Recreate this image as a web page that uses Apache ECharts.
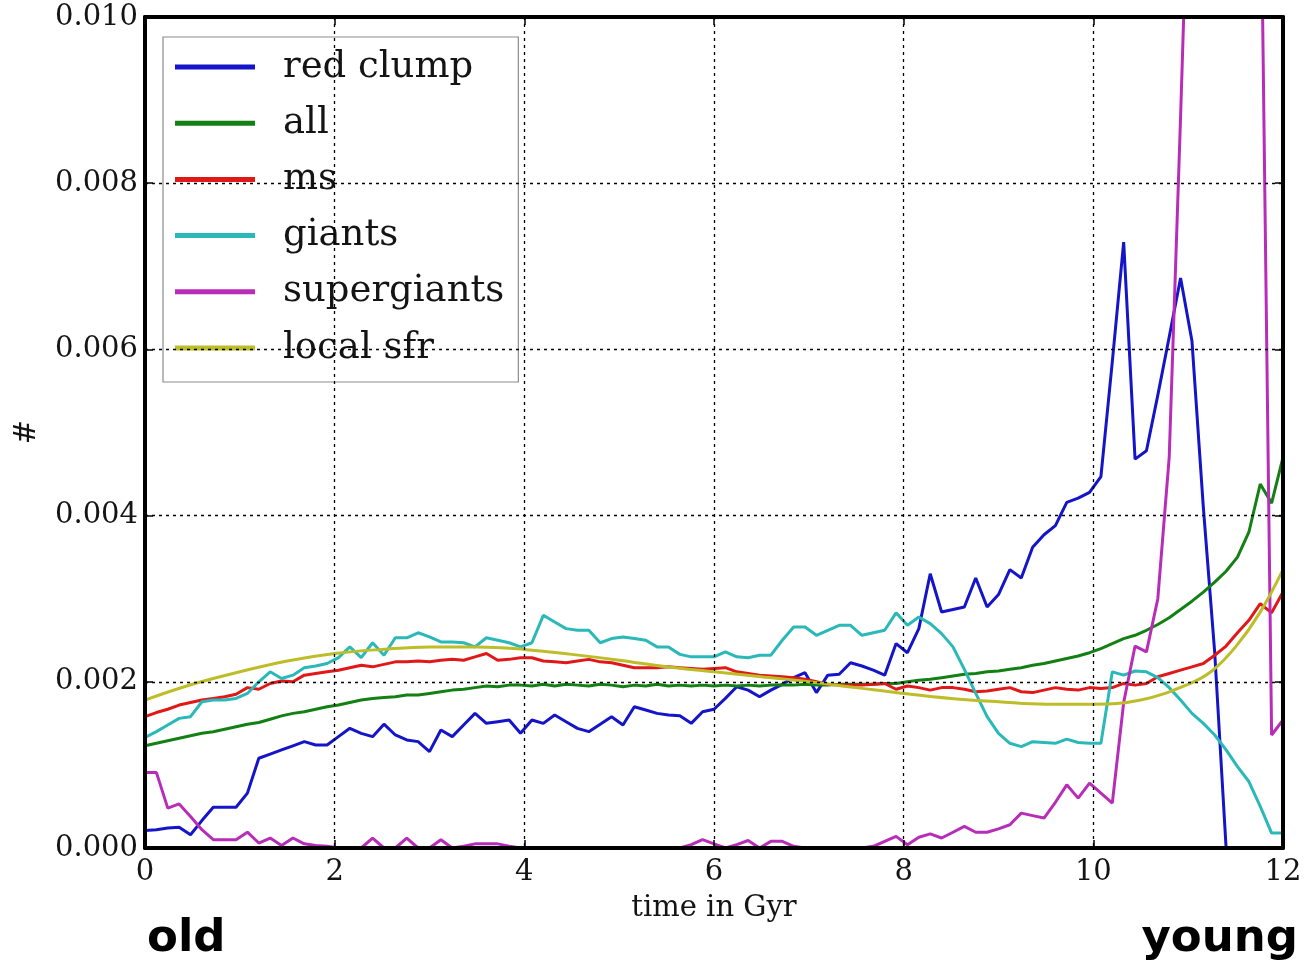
<!DOCTYPE html>
<html>
<head>
<meta charset="utf-8">
<script src="https://cdn.jsdelivr.net/npm/echarts@6/dist/echarts.min.js"></script>
<style>
  html, body { margin: 0; padding: 0; background: #fff; }
  #chart { width: 1304px; height: 963px; }
</style>
</head>
<body>
<div id="chart"></div>
<script>
// Age bins in Gyr (0.12 Gyr wide)
const timeGyr = [
  0, 0.12, 0.24, 0.36, 0.48, 0.6, 0.72, 0.84, 0.96, 1.08,
  1.2, 1.32, 1.44, 1.56, 1.68, 1.8, 1.92, 2.04, 2.16, 2.28,
  2.4, 2.52, 2.64, 2.76, 2.88, 3, 3.12, 3.24, 3.36, 3.48,
  3.6, 3.72, 3.84, 3.96, 4.08, 4.2, 4.32, 4.44, 4.56, 4.68,
  4.8, 4.92, 5.04, 5.16, 5.28, 5.4, 5.52, 5.64, 5.76, 5.88,
  6, 6.12, 6.24, 6.36, 6.48, 6.6, 6.72, 6.84, 6.96, 7.08,
  7.2, 7.32, 7.44, 7.56, 7.68, 7.8, 7.92, 8.04, 8.16, 8.28,
  8.4, 8.52, 8.64, 8.76, 8.88, 9, 9.12, 9.24, 9.36, 9.48,
  9.6, 9.72, 9.84, 9.96, 10.08, 10.2, 10.32, 10.44, 10.56, 10.68,
  10.8, 10.92, 11.04, 11.16, 11.28, 11.4, 11.52, 11.64, 11.76, 11.88, 12
];

// Normalised counts per bin, in units of 1e-3
const redClump = [
  0.21, 0.22, 0.24, 0.25, 0.16, 0.33, 0.49, 0.49, 0.49, 0.66,
  1.08, 1.13, 1.18, 1.23, 1.28, 1.24, 1.24, 1.34, 1.44, 1.38,
  1.34, 1.49, 1.36, 1.30, 1.28, 1.16, 1.42, 1.34, 1.48, 1.62,
  1.50, 1.52, 1.54, 1.38, 1.54, 1.50, 1.60, 1.52, 1.44, 1.40,
  1.49, 1.58, 1.48, 1.70, 1.66, 1.62, 1.60, 1.59, 1.50, 1.64,
  1.67, 1.80, 1.94, 1.90, 1.82, 1.90, 1.97, 2.05, 2.11, 1.87,
  2.08, 2.09, 2.23, 2.19, 2.14, 2.08, 2.46, 2.35, 2.64, 3.30,
  2.84, 2.87, 2.90, 3.25, 2.90, 3.05, 3.35, 3.25, 3.62, 3.77,
  3.88, 4.16, 4.21, 4.28, 4.47, 5.85, 7.29, 4.68, 4.78, 5.45,
  6.15, 6.86, 6.10, 4.10, 2.35, 0, 0, 0, 0, 0, 0
];

const allStars = [
  1.23, 1.26, 1.29, 1.32, 1.35, 1.38, 1.40, 1.43, 1.46, 1.49,
  1.51, 1.55, 1.59, 1.62, 1.64, 1.67, 1.70, 1.72, 1.75, 1.78,
  1.80, 1.81, 1.82, 1.84, 1.84, 1.86, 1.88, 1.90, 1.91, 1.93,
  1.95, 1.94, 1.96, 1.96, 1.95, 1.97, 1.95, 1.97, 1.96, 1.95,
  1.97, 1.96, 1.94, 1.96, 1.95, 1.97, 1.95, 1.96, 1.95, 1.96,
  1.95, 1.96, 1.95, 1.96, 1.95, 1.96, 1.96, 1.96, 1.97, 1.96,
  1.96, 1.97, 1.97, 1.97, 1.97, 1.98, 1.98, 2.00, 2.02, 2.03,
  2.05, 2.07, 2.09, 2.10, 2.12, 2.13, 2.15, 2.17, 2.20, 2.22,
  2.25, 2.28, 2.31, 2.35, 2.40, 2.46, 2.52, 2.56, 2.62, 2.69,
  2.77, 2.87, 2.97, 3.08, 3.20, 3.33, 3.50, 3.80, 4.38, 4.15, 4.70
];

const mainSequence = [
  1.58, 1.63, 1.67, 1.72, 1.75, 1.78, 1.80, 1.82, 1.85, 1.93,
  1.91, 1.98, 2.01, 2.00, 2.08, 2.10, 2.12, 2.14, 2.17, 2.20,
  2.18, 2.21, 2.24, 2.24, 2.25, 2.24, 2.26, 2.27, 2.26, 2.30,
  2.34, 2.26, 2.27, 2.29, 2.29, 2.25, 2.24, 2.23, 2.25, 2.27,
  2.24, 2.23, 2.20, 2.17, 2.17, 2.17, 2.18, 2.17, 2.16, 2.15,
  2.16, 2.17, 2.12, 2.10, 2.08, 2.07, 2.06, 2.05, 2.03, 2.00,
  1.97, 1.96, 1.96, 1.96, 1.97, 1.98, 1.91, 1.95, 1.93, 1.90,
  1.93, 1.93, 1.91, 1.88, 1.89, 1.91, 1.93, 1.88, 1.87, 1.90,
  1.93, 1.91, 1.90, 1.93, 1.92, 1.93, 1.98, 1.96, 1.98, 2.06,
  2.10, 2.14, 2.18, 2.22, 2.32, 2.43, 2.59, 2.74, 2.94, 2.83, 3.08
];

const giants = [
  1.33, 1.40, 1.48, 1.56, 1.58, 1.76, 1.78, 1.78, 1.80, 1.86,
  2.00, 2.12, 2.04, 2.08, 2.17, 2.19, 2.22, 2.29, 2.42, 2.29,
  2.47, 2.32, 2.53, 2.53, 2.59, 2.54, 2.48, 2.48, 2.47, 2.42,
  2.53, 2.50, 2.47, 2.42, 2.47, 2.80, 2.72, 2.64, 2.62, 2.62,
  2.47, 2.52, 2.54, 2.52, 2.50, 2.42, 2.42, 2.33, 2.30, 2.30,
  2.30, 2.36, 2.30, 2.29, 2.32, 2.32, 2.50, 2.66, 2.66, 2.56,
  2.62, 2.68, 2.68, 2.56, 2.59, 2.62, 2.83, 2.68, 2.78, 2.70,
  2.58, 2.42, 2.15, 1.86, 1.58, 1.38, 1.26, 1.22, 1.28, 1.27,
  1.26, 1.31, 1.27, 1.26, 1.26, 2.12, 2.08, 2.13, 2.12, 2.05,
  1.93, 1.78, 1.62, 1.50, 1.36, 1.18, 0.98, 0.80, 0.50, 0.18, 0.18
];

const supergiants = [
  0.91, 0.91, 0.48, 0.53, 0.38, 0.22, 0.10, 0.10, 0.10, 0.19,
  0.06, 0.12, 0.03, 0.12, 0.05, 0.03, 0.02, 0, 0, 0,
  0.12, 0, 0, 0.12, 0, 0, 0.10, 0, 0.02, 0.05,
  0.05, 0.05, 0.02, 0, 0, 0, 0, 0, 0, 0,
  0, 0, 0, 0, 0, 0, 0, 0, 0.04, 0.10,
  0.05, 0, 0.04, 0.09, 0, 0.08, 0.08, 0.02, 0, 0,
  0, 0, 0, 0, 0.02, 0.08, 0.14, 0.04, 0.13, 0.17,
  0.12, 0.19, 0.26, 0.19, 0.19, 0.23, 0.28, 0.42, 0.39, 0.36,
  0.55, 0.76, 0.60, 0.78, 0.66, 0.54, 1.75, 2.43, 2.36, 3.00,
  4.70, 8.80, 13.2, 14.5, 15.2, 15.0, 14.2, 13.3, 12.3, 1.36, 1.54
];

// Local star formation rate, sampled more coarsely
const sfrTime = [0, 0.5, 1, 1.5, 2, 2.5, 3, 3.5, 4, 4.5, 5, 5.5, 6, 6.5, 7, 7.5,
  8, 8.5, 9, 9.5, 10, 10.5, 11, 11.25, 11.5, 11.75, 12];
const localSfr = [1.78, 1.97, 2.12, 2.25, 2.34, 2.39, 2.42, 2.42, 2.39, 2.33, 2.26, 2.18,
  2.12, 2.06, 2.00, 1.93, 1.86, 1.80, 1.76, 1.73, 1.73, 1.78, 1.97, 2.13, 2.42, 2.82, 3.35];

const seriesNames = ['red clump', 'all', 'ms', 'giants', 'supergiants', 'local sfr'];
const yTicks = [0, 0.002, 0.004, 0.006, 0.008, 0.010];
const xTicks = [0, 2, 4, 6, 8, 10, 12];
const UNIT = 1e-3;

const SERIF = 'DejaVu Serif';
const colors = ['#1414c8', '#138013', '#e01818', '#2ab8b8', '#b82db8', '#bdbd2a'];

function pairs(ts, vs) {
  return ts.map((t, i) => [t, vs[i] * UNIT]);
}

const seriesData = [
  pairs(timeGyr, redClump),
  pairs(timeGyr, allStars),
  pairs(timeGyr, mainSequence),
  pairs(timeGyr, giants),
  pairs(timeGyr, supergiants),
  pairs(sfrTime, localSfr)
];

const frameLine = { show: true, onZero: false, lineStyle: { color: '#000', width: 4 } };
const innerTick = { show: true, inside: true, length: 8, lineStyle: { color: '#000', width: 1.5 } };
const gridLine = { show: true, lineStyle: { color: '#000', width: 1.3, type: [3, 4] } };

const chart = echarts.init(document.getElementById('chart'), null, { renderer: 'canvas' });

chart.setOption({
  animation: false,
  backgroundColor: '#ffffff',
  grid: { left: 145, right: 21, top: 17, bottom: 115, outerBoundsMode: 'none' },
  legend: {
    data: seriesNames,
    orient: 'vertical',
    left: 163,
    top: 37,
    icon: 'rect',
    itemWidth: 80,
    itemHeight: 5,
    itemGap: 11.2,
    padding: [7.5, 14, 11.5, 12],
    borderColor: '#8c8c8c',
    borderWidth: 1.2,
    backgroundColor: 'transparent',
    selectedMode: false,
    textStyle: {
      fontFamily: SERIF,
      fontSize: 37,
      lineHeight: 37,
      color: '#141414',
      padding: [8, 0, 0, 23]
    }
  },
  xAxis: [
    {
      type: 'value',
      min: xTicks[0],
      max: xTicks[xTicks.length - 1],
      interval: 2,
      z: 10,
      axisLine: frameLine,
      axisTick: innerTick,
      splitLine: gridLine,
      axisLabel: {
        fontFamily: SERIF, fontSize: 29, color: '#141414', margin: 10,
        formatter: v => String(v)
      }
    },
    {
      type: 'value',
      position: 'top',
      min: xTicks[0],
      max: xTicks[xTicks.length - 1],
      interval: 2,
      z: 10,
      axisLine: frameLine,
      axisTick: innerTick,
      splitLine: { show: false },
      axisLabel: { show: false }
    }
  ],
  yAxis: [
    {
      type: 'value',
      min: yTicks[0],
      max: yTicks[yTicks.length - 1],
      interval: 0.002,
      z: 10,
      axisLine: frameLine,
      axisTick: innerTick,
      splitLine: gridLine,
      axisLabel: {
        fontFamily: SERIF, fontSize: 29, color: '#141414', margin: 7,
        formatter: v => v.toFixed(3)
      }
    },
    {
      type: 'value',
      position: 'right',
      min: yTicks[0],
      max: yTicks[yTicks.length - 1],
      interval: 0.002,
      z: 10,
      axisLine: frameLine,
      axisTick: innerTick,
      splitLine: { show: false },
      axisLabel: { show: false }
    }
  ],
  series: seriesNames.map((name, i) => ({
    name,
    type: 'line',
    data: seriesData[i],
    xAxisIndex: 0,
    yAxisIndex: 0,
    showSymbol: false,
    symbol: 'none',
    smooth: name === 'local sfr' ? 0.4 : false,
    clip: true,
    color: colors[i],
    lineStyle: { color: colors[i], width: 3 }
  })),
  graphic: [
    {
      type: 'text', x: 27, y: 432, rotation: Math.PI / 2,
      style: { text: '#', fontFamily: SERIF, fontSize: 29, fill: '#141414', align: 'center', verticalAlign: 'middle' }
    },
    {
      type: 'text', x: 714, y: 908,
      style: { text: 'time in Gyr', fontFamily: SERIF, fontSize: 29, fill: '#141414', align: 'center', verticalAlign: 'middle' }
    },
    {
      type: 'text', x: 147, y: 939,
      style: { text: 'old', fontFamily: 'DejaVu Sans', fontWeight: 'bold', fontSize: 45, fill: '#000', align: 'left', verticalAlign: 'middle' }
    },
    {
      type: 'text', x: 1298, y: 939,
      style: { text: 'young', fontFamily: 'DejaVu Sans', fontWeight: 'bold', fontSize: 45, fill: '#000', align: 'right', verticalAlign: 'middle' }
    }
  ]
});
</script>
</body>
</html>
